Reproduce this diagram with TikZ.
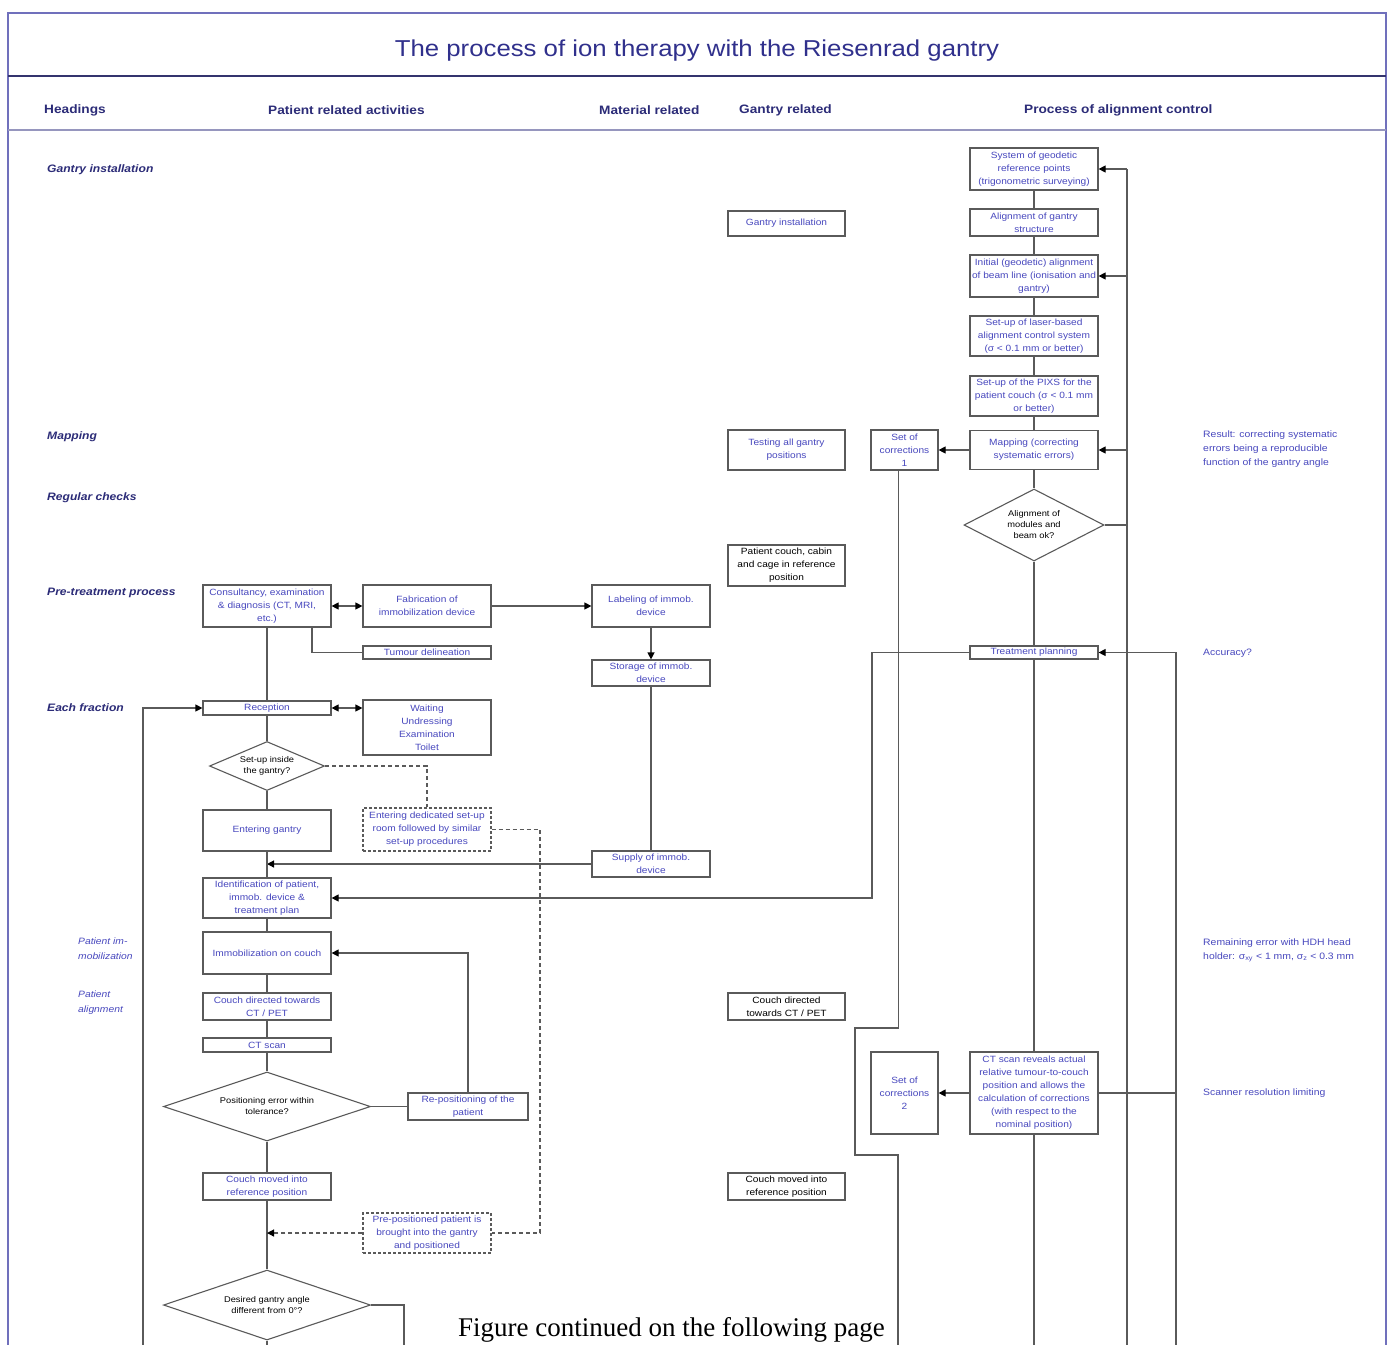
\documentclass[tikz,border=0pt]{standalone}
\usepackage{fontspec}
\setmainfont{Liberation Sans}[FakeStretch=1.12]
\newfontfamily\notefont{Liberation Serif}
\usetikzlibrary{shapes.geometric,arrows.meta}
\definecolor{framec}{RGB}{112,112,188}
\definecolor{titlec}{RGB}{48,48,140}
\definecolor{headc}{RGB}{44,44,120}
\definecolor{sepc}{RGB}{52,52,110}
\definecolor{hsepc}{RGB}{150,150,190}
\definecolor{boxtext}{RGB}{72,72,190}
\definecolor{linec}{RGB}{90,90,90}
\begin{document}
\begin{tikzpicture}[x=1pt,y=-1pt,
  box/.style={draw=linec,line width=1.2pt,fill=white,text=boxtext,
    font=\fontsize{9.05}{13}\selectfont,align=center,inner sep=0pt},
  blk/.style={box,text=black},
  dbox/.style={box,dashed,dash pattern=on 3pt off 2pt},
  wh/.style 2 args={minimum width=#1,minimum height=#2},
  dia/.style={draw=linec,line width=1.1pt,fill=white,shape=diamond,inner sep=0pt,
    text=black,font=\fontsize{8.3}{11}\selectfont,align=center},
  conn/.style={draw=linec,line width=1.2pt},
  arr/.style={conn,-{Triangle[length=7pt,width=7pt,color=black]}},
  arrb/.style={conn,{Triangle[length=7pt,width=7pt,color=black]}-{Triangle[length=7pt,width=7pt,color=black]}},
  dsh/.style={conn,dashed,dash pattern=on 4pt off 3pt},
  hd/.style={text=headc,font=\fontsize{12.2}{14}\selectfont\bfseries,inner sep=0pt},
  rowh/.style={text=headc,font=\fontsize{10.8}{13}\selectfont\bfseries\itshape,inner sep=0pt},
  rown/.style={text=boxtext,font=\fontsize{9.2}{14.5}\selectfont\itshape,inner sep=0pt,align=left},
  note/.style={text=boxtext,font=\fontsize{9.3}{14}\selectfont,inner sep=0pt,align=left}
]
\useasboundingbox (0,0) rectangle (1391,1344);
\fill[white] (0,0) rectangle (1391,1344);

% frame and header bands
\draw[framec,line width=1.8pt] (8,1350) -- (8,13) -- (1386,13) -- (1386,1350);
\draw[sepc,line width=1.8pt] (8,76) -- (1386,76);
\draw[hsepc,line width=1.4pt] (8,130) -- (1386,130);
\node[text=titlec,font=\fontsize{23}{28}\selectfont] (title) at (697,51)
  {The process of ion therapy with the Riesenrad gantry};

% column headings
\node[hd,anchor=west] (hHead) at (44,110) {Headings};
\node[hd,anchor=west] (hPat) at (268,110) {Patient related activities};
\node[hd,anchor=west] (hMat) at (599,110) {Material related};
\node[hd,anchor=west] (hGan) at (739,110) {Gantry related};
\node[hd,anchor=west] (hAli) at (1024,110) {Process of alignment control};

% row headings
\node[rowh,anchor=west] (rGI) at (47,170) {Gantry installation};
\node[rowh,anchor=west] (rMap) at (47,437) {Mapping};
\node[rowh,anchor=west] (rReg) at (47,498) {Regular checks};
\node[rowh,anchor=west] (rPre) at (47,593) {Pre-treatment process};
\node[rowh,anchor=west] (rEach) at (47,708) {Each fraction};
\node[rown,anchor=north west] (rImm) at (78,938) {Patient im-\\mobilization};
\node[rown,anchor=north west] (rAlg) at (78,991) {Patient\\alignment};

% remarks on the right
\node[note,anchor=north west] (nRes) at (1203,431)
  {Result: correcting systematic\\errors being a reproducible\\function of the gantry angle};
\node[note,anchor=west] (nAcc) at (1203,653) {Accuracy?};
\node[note,anchor=north west] (nRem) at (1203,939)
  {Remaining error with HDH head\\holder: σ\textsubscript{xy} < 1 mm, σ\textsubscript{z} < 0.3 mm};
\node[note,anchor=west] (nScan) at (1203,1093) {Scanner resolution limiting};

% alignment control column
\node[box,wh={128}{42}] (A1) at (1034,169) {System of geodetic\\reference points\\(trigonometric surveying)};
\node[box,wh={128}{27}] (A2) at (1034,222.5) {Alignment of gantry\\structure};
\node[box,wh={128}{42}] (A3) at (1034,276) {Initial (geodetic) alignment\\of beam line (ionisation and\\gantry)};
\node[box,wh={128}{40}] (A4) at (1034,336) {Set-up of laser-based\\alignment control system\\(σ < 0.1 mm or better)};
\node[box,wh={128}{40}] (A5) at (1034,396) {Set-up of the PIXS for the\\patient couch (σ < 0.1 mm\\or better)};
\node[box,wh={128}{39}] (A6) at (1034,450) {Mapping (correcting\\systematic errors)};
\node[dia,minimum width=140,minimum height=72,shape aspect=1.9] (D1) at (1034,525) {Alignment of\\modules and\\beam ok?};
\node[box,wh={128}{13}] (A7) at (1034,652.5) {Treatment planning};
\node[box,wh={128}{82}] (A8) at (1034,1093) {CT scan reveals actual\\relative tumour-to-couch\\position and allows the\\calculation of corrections\\(with respect to the\\nominal position)};
\node[box,wh={67}{40}] (SC1) at (904.5,450) {Set of\\corrections\\1};
\node[box,wh={67}{82}] (SC2) at (904.5,1093) {Set of\\corrections\\2};

% gantry related column
\node[box,wh={117}{25}] (G1) at (786.5,223.5) {Gantry installation};
\node[box,wh={117}{40}] (G2) at (786.5,450) {Testing all gantry\\positions};
\node[blk,wh={117}{41}] (G3) at (786.5,565.5) {Patient couch, cabin\\and cage in reference\\position};
\node[blk,wh={117}{27}] (G4) at (786.5,1006.5) {Couch directed\\towards CT / PET};
\node[blk,wh={117}{27}] (G5) at (786.5,1186.5) {Couch moved into\\reference position};

% material related column
\node[box,wh={118}{42}] (M1) at (651,606) {Labeling of immob.\\device};
\node[box,wh={118}{26}] (M2) at (651,673) {Storage of immob.\\device};
\node[box,wh={118}{26}] (M3) at (651,864) {Supply of immob.\\device};

% patient related column
\node[box,wh={128}{42}] (P1) at (267,606) {Consultancy, examination\\\& diagnosis (CT, MRI,\\etc.)};
\node[box,wh={128}{14}] (P2) at (267,708) {Reception};
\node[dia,minimum width=115,minimum height=49,shape aspect=2.35] (PD1) at (267,766) {Set-up inside\\the gantry?};
\node[box,wh={128}{41}] (P3) at (267,830.5) {Entering gantry};
\node[box,wh={128}{40}] (P4) at (267,898) {Identification of patient,\\immob. device \&\\treatment plan};
\node[box,wh={128}{42}] (P5) at (267,953) {Immobilization on couch};
\node[box,wh={128}{27}] (P6) at (267,1006.5) {Couch directed towards\\CT / PET};
\node[box,wh={128}{14}] (P7) at (267,1045) {CT scan};
\node[dia,minimum width=207,minimum height=69,shape aspect=3] (PD2) at (267,1106.5) {Positioning error within\\tolerance?};
\node[box,wh={128}{27}] (P8) at (267,1186.5) {Couch moved into\\reference position};
\node[dia,minimum width=207,minimum height=70,shape aspect=3] (PD3) at (267,1305) {Desired gantry angle\\different from 0\textdegree?};

\node[box,wh={128}{42}] (F1) at (427,606) {Fabrication of\\immobilization device};
\node[box,wh={128}{13}] (F2) at (427,652.5) {Tumour delineation};
\node[box,wh={128}{55}] (F3) at (427,727.5) {Waiting\\Undressing\\Examination\\Toilet};
\node[dbox,wh={128}{43}] (F4) at (427,829.5) {Entering dedicated set-up\\room followed by similar\\set-up procedures};
\node[box,wh={120}{27}] (F5) at (468,1106.5) {Re-positioning of the\\patient};
\node[dbox,wh={128}{40}] (F6) at (427,1233) {Pre-positioned patient is\\brought into the gantry\\and positioned};

% free ends and bends of the connectors
\coordinate (fbTop) at (1127,169);
\coordinate (fbBot) at (1127,1350);
\coordinate (accBot) at (1176,1350);
\coordinate (spBot) at (1034,1350);
\coordinate (tpBend) at (872,898);
\coordinate (jogA) at (855,1028);
\coordinate (jogB) at (855,1155);
\coordinate (scBot) at (898,1350);
\coordinate (efBot) at (143,1350);
\coordinate (pdBot) at (404,1350);
\coordinate (dshC) at (540,1233);
\coordinate (pBot) at (267,1350);

% alignment control chain
\draw[conn] (A1) -- (A2);
\draw[conn] (A2) -- (A3);
\draw[conn] (A3) -- (A4);
\draw[conn] (A4) -- (A5);
\draw[conn] (A5) -- (A6);
\draw[conn] (A6.south) -- (D1.north);
\draw[conn] (D1.south) -- (A7.north);
\draw[conn] (A7.south) -- (A8.north);
\draw[conn] (A8.south) -- (spBot);
\draw[conn] (fbBot) -- (fbTop);
\draw[arr] (fbTop) -- (A1.east);
\draw[arr] (A3.east -| fbTop) -- (A3.east);
\draw[arr] (A6.east -| fbTop) -- (A6.east);
\draw[conn] (D1.east) -- (D1.east -| fbTop);
\draw[arr] (accBot) |- (A7.east);
\draw[conn] (A8.east) -- (A8.east -| accBot);
\draw[arr] (A6.west) -- (SC1.east);
\draw[arr] (A8.west) -- (SC2.east);
\draw[conn] ([xshift=-6pt]SC1.south) |- (jogA) -- (jogB) -| (scBot);
\draw[arr] (A7.west) -| (tpBend) -- (P4.east);

% material flow
\draw[arrb] (P1.east) -- (F1.west);
\draw[arr] (F1.east) -- (M1.west);
\draw[arr] (M1.south) -- (M2.north);
\draw[conn] (M2.south) -- (M3.north);
\draw[arr] (M3.west) -- (M3.west -| P3.south);
\draw[conn] ([xshift=45pt]P1.south) |- (F2.west);

% patient flow
\draw[conn] (P1) -- (P2);
\draw[conn] (P2) -- (PD1);
\draw[conn] (PD1) -- (P3);
\draw[conn] (P3) -- (P4);
\draw[conn] (P4) -- (P5);
\draw[conn] (P5) -- (P6);
\draw[conn] (P6) -- (P7);
\draw[conn] (P7.south) -- (PD2.north);
\draw[conn] (PD2.south) -- (P8.north);
\draw[conn] (P8.south) -- (PD3.north);
\draw[conn] (PD3.south) -- (pBot);
\draw[arrb] (P2.east) -- (P2.east -| F3.west);
\draw[dsh] (PD1.east) -| (F4.north);
\draw[dsh] (F4.east) -| (dshC) -- (F6.east);
\draw[dsh,-{Triangle[length=7pt,width=7pt,color=black]}] (F6.west) -- (F6.west -| P8.south);
\draw[conn] (PD2.east) -- (F5.west);
\draw[arr] (F5.north) |- (P5.east);
\draw[conn] (PD3.east) -| (pdBot);
\draw[arr] (efBot) |- (P2.west);

% page note
\node[font=\notefont\fontsize{27}{30}\selectfont,anchor=base west,inner sep=0pt] (cont) at (458,1336)
  {Figure continued on the following page};
\end{tikzpicture}
\end{document}
